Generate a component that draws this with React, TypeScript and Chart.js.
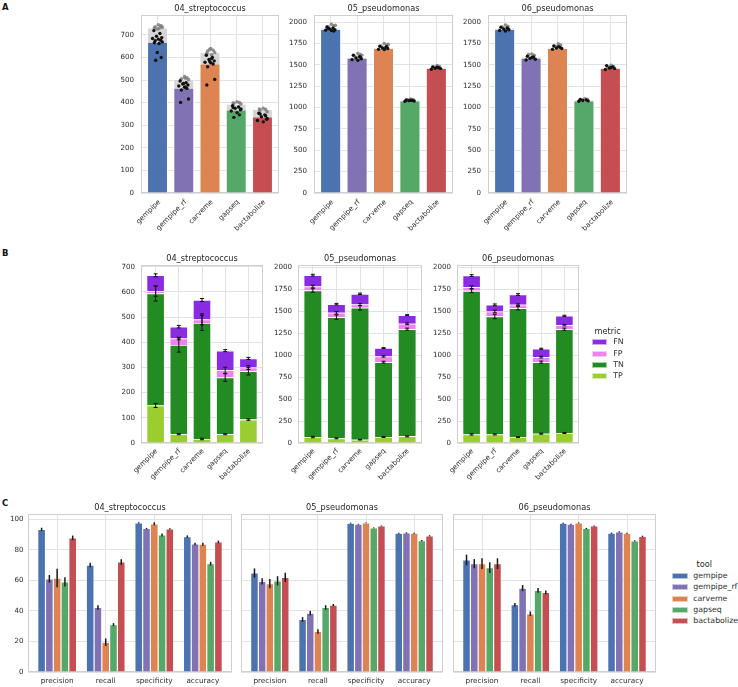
import React, { useEffect, useRef } from 'react';
import { Chart, registerables } from 'chart.js';
Chart.register(...registerables);

const FONT = "'DejaVu Sans', sans-serif";
Chart.defaults.font.family = FONT;
Chart.defaults.color = '#2e2e2e';

const TXT = '#2e2e2e';
const GRID = '#e2e2e2';
const FRAME = '#cfcfcf';

const TOOLS = ['gempipe', 'gempipe_rf', 'carveme', 'gapseq', 'bactabolize'];
const TOOL_COLORS = ['#4C72B0', '#8172B3', '#DD8452', '#55A868', '#C44E52'];
const ORGS = ['04_streptococcus', '05_pseudomonas', '06_pseudomonas'];
const METRICS_B = ['TP', 'TN', 'FP', 'FN'];
const METRIC_B_COLORS = ['#9ACD32', '#228B22', '#EE82EE', '#8A2BE2'];
const METRICS_C = ['precision', 'recall', 'specificity', 'accuracy'];

const TICKS_SMALL = [0, 100, 200, 300, 400, 500, 600, 700];
const TICKS_LARGE = [0, 250, 500, 750, 1000, 1250, 1500, 1750, 2000];
const TICKS_PCT = [0, 20, 40, 60, 80, 100];

// ---------- Row A: predicted (coloured) vs reference (grey) ----------
const A_PRED_04 = [669, 465, 572, 369, 338];
const A_REF_04 = [732, 504, 623, 394, 371];
const A_PRED_PTS_04 = [
  [719, 706, 694, 688, 684, 681, 676, 674, 669, 665, 662, 622, 600, 588],
  [496, 488, 482, 478, 474, 468, 463, 456, 416, 401, 470, 485],
  [610, 600, 591, 585, 579, 576, 571, 559, 503, 478, 595, 582],
  [387, 381, 375, 368, 363, 356, 346, 335, 372, 378],
  [353, 346, 338, 326, 321, 315, 342, 350, 330],
];
const A_REF_PTS_04 = [
  [745, 740, 736, 733, 730, 728, 726, 738],
  [515, 510, 506, 502, 500, 508],
  [640, 632, 628, 622, 618, 612, 636],
  [404, 400, 397, 394, 398],
  [375, 370, 366, 360, 372],
];

const A_PRED_05 = [1915, 1580, 1695, 1080, 1460];
const A_REF_05 = [1934, 1592, 1705, 1091, 1472];
const A_PRED_PTS_05 = [
  [1942, 1930, 1920, 1910, 1905, 1900, 1895, 1925],
  [1611, 1595, 1580, 1570, 1560, 1553, 1590],
  [1716, 1705, 1697, 1690, 1680, 1678, 1710],
  [1087, 1083, 1080, 1076, 1072, 1085],
  [1475, 1465, 1460, 1455, 1448, 1470],
];
const A_REF_PTS_05 = [
  [1973, 1955, 1945, 1962],
  [1631, 1620, 1600, 1612],
  [1748, 1730, 1720, 1738],
  [1100, 1094, 1090],
  [1490, 1480, 1472],
];

const A_PRED_06 = [1915, 1580, 1695, 1080, 1460];
const A_REF_06 = [1932, 1595, 1708, 1090, 1470];
const A_PRED_PTS_06 = [
  [1940, 1930, 1918, 1910, 1900, 1895, 1925],
  [1600, 1590, 1575, 1565, 1555, 1585],
  [1720, 1705, 1695, 1690, 1680, 1712],
  [1095, 1088, 1082, 1078, 1074],
  [1490, 1475, 1462, 1455, 1445, 1468],
];
const A_REF_PTS_06 = [
  [1965, 1950, 1940],
  [1625, 1610, 1620],
  [1745, 1730, 1715],
  [1102, 1096, 1090],
  [1495, 1480, 1470],
];

// fixed strip-plot jitter offsets (category units)
const JITTER = [-0.14, 0.09, -0.04, 0.16, -0.19, 0.03, 0.12, -0.09, 0.18, -0.12, 0.06, -0.01, 0.14, -0.07, 0.1, -0.16];

// ---------- Row B: stacked confusion counts [TP, TN, FP, FN] per tool ----------
const B_04 = [
  [149, 35, 16, 35, 93],
  [445, 354, 461, 225, 192],
  [9, 26, 14, 29, 15],
  [63, 47, 77, 78, 36],
];
const B_ERR_04 = [
  [8, 2, 3, 2, 3],
  [30, 28, 30, 15, 15],
  [20, 5, 22, 12, 8],
  [6, 5, 6, 4, 4],
];
const B_05 = [
  [68, 53, 38, 68, 76],
  [1667, 1379, 1500, 852, 1219],
  [45, 49, 38, 65, 61],
  [129, 99, 121, 95, 99],
];
const B_ERR_05 = [
  [8, 5, 4, 5, 6],
  [20, 25, 25, 10, 12],
  [15, 15, 12, 8, 10],
  [10, 8, 8, 5, 5],
];
const B_06 = [
  [98, 98, 68, 106, 114],
  [1633, 1341, 1466, 814, 1181],
  [42, 57, 38, 57, 46],
  [132, 76, 117, 95, 106],
];
const B_ERR_06 = [
  [8, 6, 5, 6, 6],
  [20, 25, 20, 12, 12],
  [15, 15, 10, 10, 8],
  [10, 10, 10, 6, 6],
];

// ---------- Row C: metrics (%) per tool [precision, recall, specificity, accuracy] ----------
const C_04 = [
  [93.4, 70.0, 97.6, 88.6],
  [61.0, 42.2, 93.9, 83.8],
  [61.5, 19.5, 97.0, 83.6],
  [59.0, 31.0, 89.7, 70.9],
  [87.8, 72.0, 93.7, 85.1],
];
const C_ERR_04 = [
  [1.0, 1.5, 0.4, 0.8],
  [2.5, 1.5, 0.4, 0.8],
  [6.0, 2.5, 1.0, 1.0],
  [3.0, 1.0, 1.0, 1.2],
  [1.5, 1.8, 0.4, 0.8],
];
const C_05 = [
  [64.8, 34.4, 97.4, 90.8],
  [59.3, 38.5, 96.7, 91.0],
  [57.8, 26.5, 97.6, 90.8],
  [59.7, 42.2, 94.3, 86.0],
  [61.9, 43.8, 95.6, 89.1],
];
const C_ERR_05 = [
  [3.0, 1.5, 0.3, 0.4],
  [2.0, 1.5, 0.3, 0.4],
  [3.0, 1.5, 0.3, 0.4],
  [3.0, 1.5, 0.3, 0.4],
  [3.0, 0.7, 0.3, 0.4],
];
const C_06 = [
  [73.3, 44.0, 97.4, 90.8],
  [70.9, 54.9, 96.7, 91.7],
  [70.9, 38.1, 97.6, 90.8],
  [68.3, 53.4, 93.9, 85.8],
  [70.9, 52.1, 95.6, 88.8],
];
const C_ERR_06 = [
  [3.5, 1.2, 0.3, 0.4],
  [3.0, 2.0, 0.3, 0.4],
  [3.5, 1.5, 0.3, 0.4],
  [3.5, 1.5, 0.4, 0.4],
  [3.5, 1.2, 0.3, 0.4],
];

// ---------- layout helpers ----------
type Box = { L: number; T: number; W: number; H: number; ax: number; ay: number; aw: number; ah: number };

const framePlugin = {
  id: 'frame',
  beforeDatasetsDraw(chart: any) {
    const { ctx, chartArea: a } = chart;
    ctx.save();
    ctx.strokeStyle = FRAME;
    ctx.lineWidth = 1;
    ctx.strokeRect(Math.round(a.left) + 0.5, Math.round(a.top) + 0.5, Math.round(a.right - a.left) - 1, Math.round(a.bottom - a.top) - 1);
    ctx.restore();
  },
};

function titlePlugin(text: string) {
  return {
    id: 'ptitle',
    afterDraw(chart: any) {
      const { ctx, chartArea: a } = chart;
      ctx.save();
      ctx.font = `8.2px ${FONT}`;
      ctx.fillStyle = '#262626';
      ctx.textAlign = 'center';
      ctx.textBaseline = 'middle';
      ctx.fillText(text, (a.left + a.right) / 2, a.top - 6.3);
      ctx.restore();
    },
  };
}

function errPlugin(errs: number[][], stacked: boolean, cap: number, lw: number, color: string) {
  return {
    id: 'errbars',
    afterDatasetsDraw(chart: any) {
      const ctx = chart.ctx;
      const ys = chart.scales.y;
      ctx.save();
      ctx.strokeStyle = color;
      ctx.lineWidth = lw;
      errs.forEach((row, di) => {
        const meta = chart.getDatasetMeta(di);
        row.forEach((e, i) => {
          const el = meta.data[i];
          if (!el) return;
          let v = 0;
          if (stacked) {
            for (let k = 0; k <= di; k++) v += chart.data.datasets[k].data[i].y;
          } else v = chart.data.datasets[di].data[i].y;
          const y1 = ys.getPixelForValue(v + e);
          const y2 = ys.getPixelForValue(v - e);
          ctx.beginPath();
          ctx.moveTo(el.x, y1);
          ctx.lineTo(el.x, y2);
          if (cap) {
            ctx.moveTo(el.x - cap, y1);
            ctx.lineTo(el.x + cap, y1);
            ctx.moveTo(el.x - cap, y2);
            ctx.lineTo(el.x + cap, y2);
          }
          ctx.stroke();
        });
      });
      ctx.restore();
    },
  };
}

function baseOptions(box: Box, o: {
  labels: string[]; xMin: number; xMax: number; rot: number; xPad: number; labelOffset: number;
  yTicks: number[]; yMax: number; showY: boolean; yPad: number; stacked?: boolean;
}) {
  return {
    responsive: false,
    animation: false,
    events: [],
    layout: { padding: { left: o.showY ? 0 : box.ax - box.L, top: box.ay - box.T, right: box.L + box.W - (box.ax + box.aw), bottom: 0 } },
    plugins: { legend: { display: false }, tooltip: { enabled: false }, title: { display: false } },
    scales: {
      x: {
        type: 'linear',
        min: o.xMin,
        max: o.xMax,
        offset: false,
        stacked: !!o.stacked,
        afterBuildTicks: (s: any) => { s.ticks = o.labels.map((_, i) => ({ value: i })); },
        afterFit: (s: any) => { s.height = box.T + box.H - (box.ay + box.ah); },
        ticks: {
          callback: (v: any) => o.labels[Math.round(v)] ?? '',
          autoSkip: false,
          minRotation: o.rot,
          maxRotation: o.rot,
          padding: o.xPad,
          labelOffset: o.labelOffset,
          color: TXT,
          font: { size: o.rot ? 7.1 : 7.3, family: FONT },
        },
        grid: { color: GRID, drawTicks: false, lineWidth: 1, offset: false },
        border: { display: false },
      },
      y: {
        type: 'linear',
        min: 0,
        max: o.yMax,
        stacked: !!o.stacked,
        afterBuildTicks: (s: any) => { s.ticks = o.yTicks.map((v) => ({ value: v })); },
        afterFit: (s: any) => { s.width = o.showY ? box.ax - box.L : 0; },
        ticks: { display: o.showY, padding: o.yPad, color: TXT, font: { size: 7.1, family: FONT }, callback: (v: any) => String(v) },
        grid: { color: GRID, drawTicks: false, lineWidth: 1 },
        border: { display: false },
      },
    },
  };
}

function buildA(box: Box, title: string, pred: number[], ref: number[], predPts: number[][], refPts: number[][], yTicks: number[], yMax: number) {
  return {
    type: 'bar',
    data: {
      datasets: [
        {
          type: 'scatter',
          data: predPts.flatMap((arr, i) => arr.map((v, k) => ({ x: i + JITTER[k % JITTER.length], y: v }))),
          backgroundColor: '#111111',
          borderWidth: 0,
          pointRadius: 1.7,
        },
        {
          type: 'scatter',
          data: refPts.flatMap((arr, i) => arr.map((v, k) => ({ x: i + JITTER[(k + 5) % JITTER.length], y: v }))),
          backgroundColor: 'rgba(125,125,125,0.85)',
          borderWidth: 0,
          pointRadius: 1.8,
        },
        {
          type: 'bar',
          data: pred.map((v, i) => ({ x: i, y: v })),
          backgroundColor: TOOL_COLORS,
          borderColor: 'rgba(255,255,255,0.7)',
          borderWidth: 0.8,
          grouped: false,
          categoryPercentage: 1,
          barPercentage: 0.78,
        },
        {
          type: 'bar',
          data: ref.map((v, i) => ({ x: i, y: v })),
          backgroundColor: '#d6d6d6',
          borderColor: 'rgba(255,255,255,0.7)',
          borderWidth: 0.8,
          grouped: false,
          categoryPercentage: 1,
          barPercentage: 0.78,
        },
      ],
    },
    options: baseOptions(box, { labels: TOOLS, xMin: -0.63, xMax: 4.63, rot: 45, xPad: 5, labelOffset: 2, yTicks, yMax, showY: true, yPad: 7 }),
    plugins: [framePlugin, titlePlugin(title)],
  };
}

function buildB(box: Box, title: string, segs: number[][], errs: number[][], yTicks: number[], yMax: number) {
  return {
    type: 'bar',
    data: {
      datasets: segs.map((row, mi) => ({
        label: METRICS_B[mi],
        data: row.map((v, i) => ({ x: i, y: v })),
        backgroundColor: METRIC_B_COLORS[mi],
        borderColor: 'rgba(255,255,255,0.75)',
        borderWidth: 0.8,
        categoryPercentage: 1,
        barPercentage: 0.785,
      })),
    },
    options: baseOptions(box, { labels: TOOLS, xMin: -0.63, xMax: 4.63, rot: 45, xPad: 4, labelOffset: 1, yTicks, yMax, showY: true, yPad: 6, stacked: true }),
    plugins: [framePlugin, titlePlugin(title), errPlugin(errs, true, 2, 1, '#111111')],
  };
}

function buildC(box: Box, title: string, vals: number[][], errs: number[][], showY: boolean) {
  return {
    type: 'bar',
    data: {
      datasets: vals.map((row, ti) => ({
        label: TOOLS[ti],
        data: row.map((v, i) => ({ x: i, y: v })),
        backgroundColor: TOOL_COLORS[ti],
        borderColor: 'rgba(255,255,255,0.7)',
        borderWidth: 0.6,
        categoryPercentage: 0.8,
        barPercentage: 1,
      })),
    },
    options: baseOptions(box, { labels: METRICS_C, xMin: -0.6, xMax: 3.6, rot: 0, xPad: 5, labelOffset: 0, yTicks: TICKS_PCT, yMax: 103.4, showY, yPad: 4.5 }),
    plugins: [framePlugin, titlePlugin(title), errPlugin(errs, false, 0, 1.5, '#1a1a1a')],
  };
}

function Panel({ box, build }: { box: Box; build: () => any }) {
  const ref = useRef<HTMLCanvasElement>(null);
  useEffect(() => {
    const chart = new Chart(ref.current as HTMLCanvasElement, build());
    return () => chart.destroy();
  }, []);
  return (
    <div style={{ position: 'absolute', left: box.L, top: box.T, width: box.W, height: box.H }}>
      <canvas ref={ref} width={box.W} height={box.H} style={{ width: box.W, height: box.H, display: 'block' }} />
    </div>
  );
}

const BOX_A: Box[] = [
  { L: 95, T: 0, W: 190, H: 245, ax: 141, ay: 15, aw: 138, ah: 178 },
  { L: 275, T: 0, W: 185, H: 245, ax: 314, ay: 15, aw: 139, ah: 178 },
  { L: 450, T: 0, W: 185, H: 245, ax: 488, ay: 15, aw: 139, ah: 178 },
];
const BOX_B: Box[] = [
  { L: 95, T: 245, W: 175, H: 240, ax: 141, ay: 265, aw: 122, ah: 178 },
  { L: 262, T: 245, W: 165, H: 240, ax: 298, ay: 265, aw: 124, ah: 178 },
  { L: 420, T: 245, W: 165, H: 240, ax: 457, ay: 265, aw: 122, ah: 178 },
];
const BOX_C: Box[] = [
  { L: 0, T: 495, W: 236, H: 192, ax: 28, ay: 514, aw: 204, ah: 158 },
  { L: 236, T: 495, W: 210, H: 192, ax: 241, ay: 514, aw: 202, ah: 158 },
  { L: 448, T: 495, W: 212, H: 192, ax: 453, ay: 514, aw: 203, ah: 158 },
];

function LegendBlock({ title, items, colors, titleX, titleY, patchX, textX, ys }: {
  title: string; items: string[]; colors: string[]; titleX: number; titleY: number; patchX: number; textX: number; ys: number[];
}) {
  return (
    <>
      <div style={{ position: 'absolute', left: titleX - 40, width: 80, top: titleY - 6, height: 12, lineHeight: '12px', textAlign: 'center', fontSize: 8.2, color: '#262626', fontFamily: FONT }}>{title}</div>
      {items.map((t, i) => (
        <React.Fragment key={t}>
          <div style={{ position: 'absolute', left: patchX, top: ys[i] - 2.9, width: 15.6, height: 5.8, background: colors[i], boxSizing: 'border-box', border: '0.5px solid rgba(255,255,255,0.6)' }} />
          <div style={{ position: 'absolute', left: textX, top: ys[i] - 6, height: 12, lineHeight: '12px', fontSize: 7.8, color: TXT, fontFamily: FONT, whiteSpace: 'nowrap' }}>{t}</div>
        </React.Fragment>
      ))}
    </>
  );
}

export default function App() {
  const letter = (t: string, y: number) => (
    <div style={{ position: 'absolute', left: 2, top: y - 6, height: 12, lineHeight: '12px', fontSize: 8.5, fontWeight: 'bold', fontFamily: FONT, color: '#111' }}>{t}</div>
  );
  return (
    <div style={{ position: 'absolute', left: 0, top: 0, width: 738, height: 687, background: '#ffffff', overflow: 'hidden' }}>
      {letter('A', 6.5)}
      {letter('B', 253)}
      {letter('C', 502.5)}
      <Panel box={BOX_A[0]} build={() => buildA(BOX_A[0], ORGS[0], A_PRED_04, A_REF_04, A_PRED_PTS_04, A_REF_PTS_04, TICKS_SMALL, 788)} />
      <Panel box={BOX_A[1]} build={() => buildA(BOX_A[1], ORGS[1], A_PRED_05, A_REF_05, A_PRED_PTS_05, A_REF_PTS_05, TICKS_LARGE, 2082)} />
      <Panel box={BOX_A[2]} build={() => buildA(BOX_A[2], ORGS[2], A_PRED_06, A_REF_06, A_PRED_PTS_06, A_REF_PTS_06, TICKS_LARGE, 2082)} />
      <Panel box={BOX_B[0]} build={() => buildB(BOX_B[0], ORGS[0], B_04, B_ERR_04, TICKS_SMALL, 707)} />
      <Panel box={BOX_B[1]} build={() => buildB(BOX_B[1], ORGS[1], B_05, B_ERR_05, TICKS_LARGE, 2025)} />
      <Panel box={BOX_B[2]} build={() => buildB(BOX_B[2], ORGS[2], B_06, B_ERR_06, TICKS_LARGE, 2025)} />
      <Panel box={BOX_C[0]} build={() => buildC(BOX_C[0], ORGS[0], C_04, C_ERR_04, true)} />
      <Panel box={BOX_C[1]} build={() => buildC(BOX_C[1], ORGS[1], C_05, C_ERR_05, false)} />
      <Panel box={BOX_C[2]} build={() => buildC(BOX_C[2], ORGS[2], C_06, C_ERR_06, false)} />
      <LegendBlock title="metric" items={['FN', 'FP', 'TN', 'TP']} colors={[METRIC_B_COLORS[3], METRIC_B_COLORS[2], METRIC_B_COLORS[1], METRIC_B_COLORS[0]]}
        titleX={607.7} titleY={330.7} patchX={591.7} textX={613.3} ys={[342.3, 353.7, 365, 376.3]} />
      <LegendBlock title="tool" items={TOOLS} colors={TOOL_COLORS}
        titleX={704.3} titleY={564.3} patchX={672} textX={693.3} ys={[576, 587.3, 598.7, 610, 621.3]} />
    </div>
  );
}
